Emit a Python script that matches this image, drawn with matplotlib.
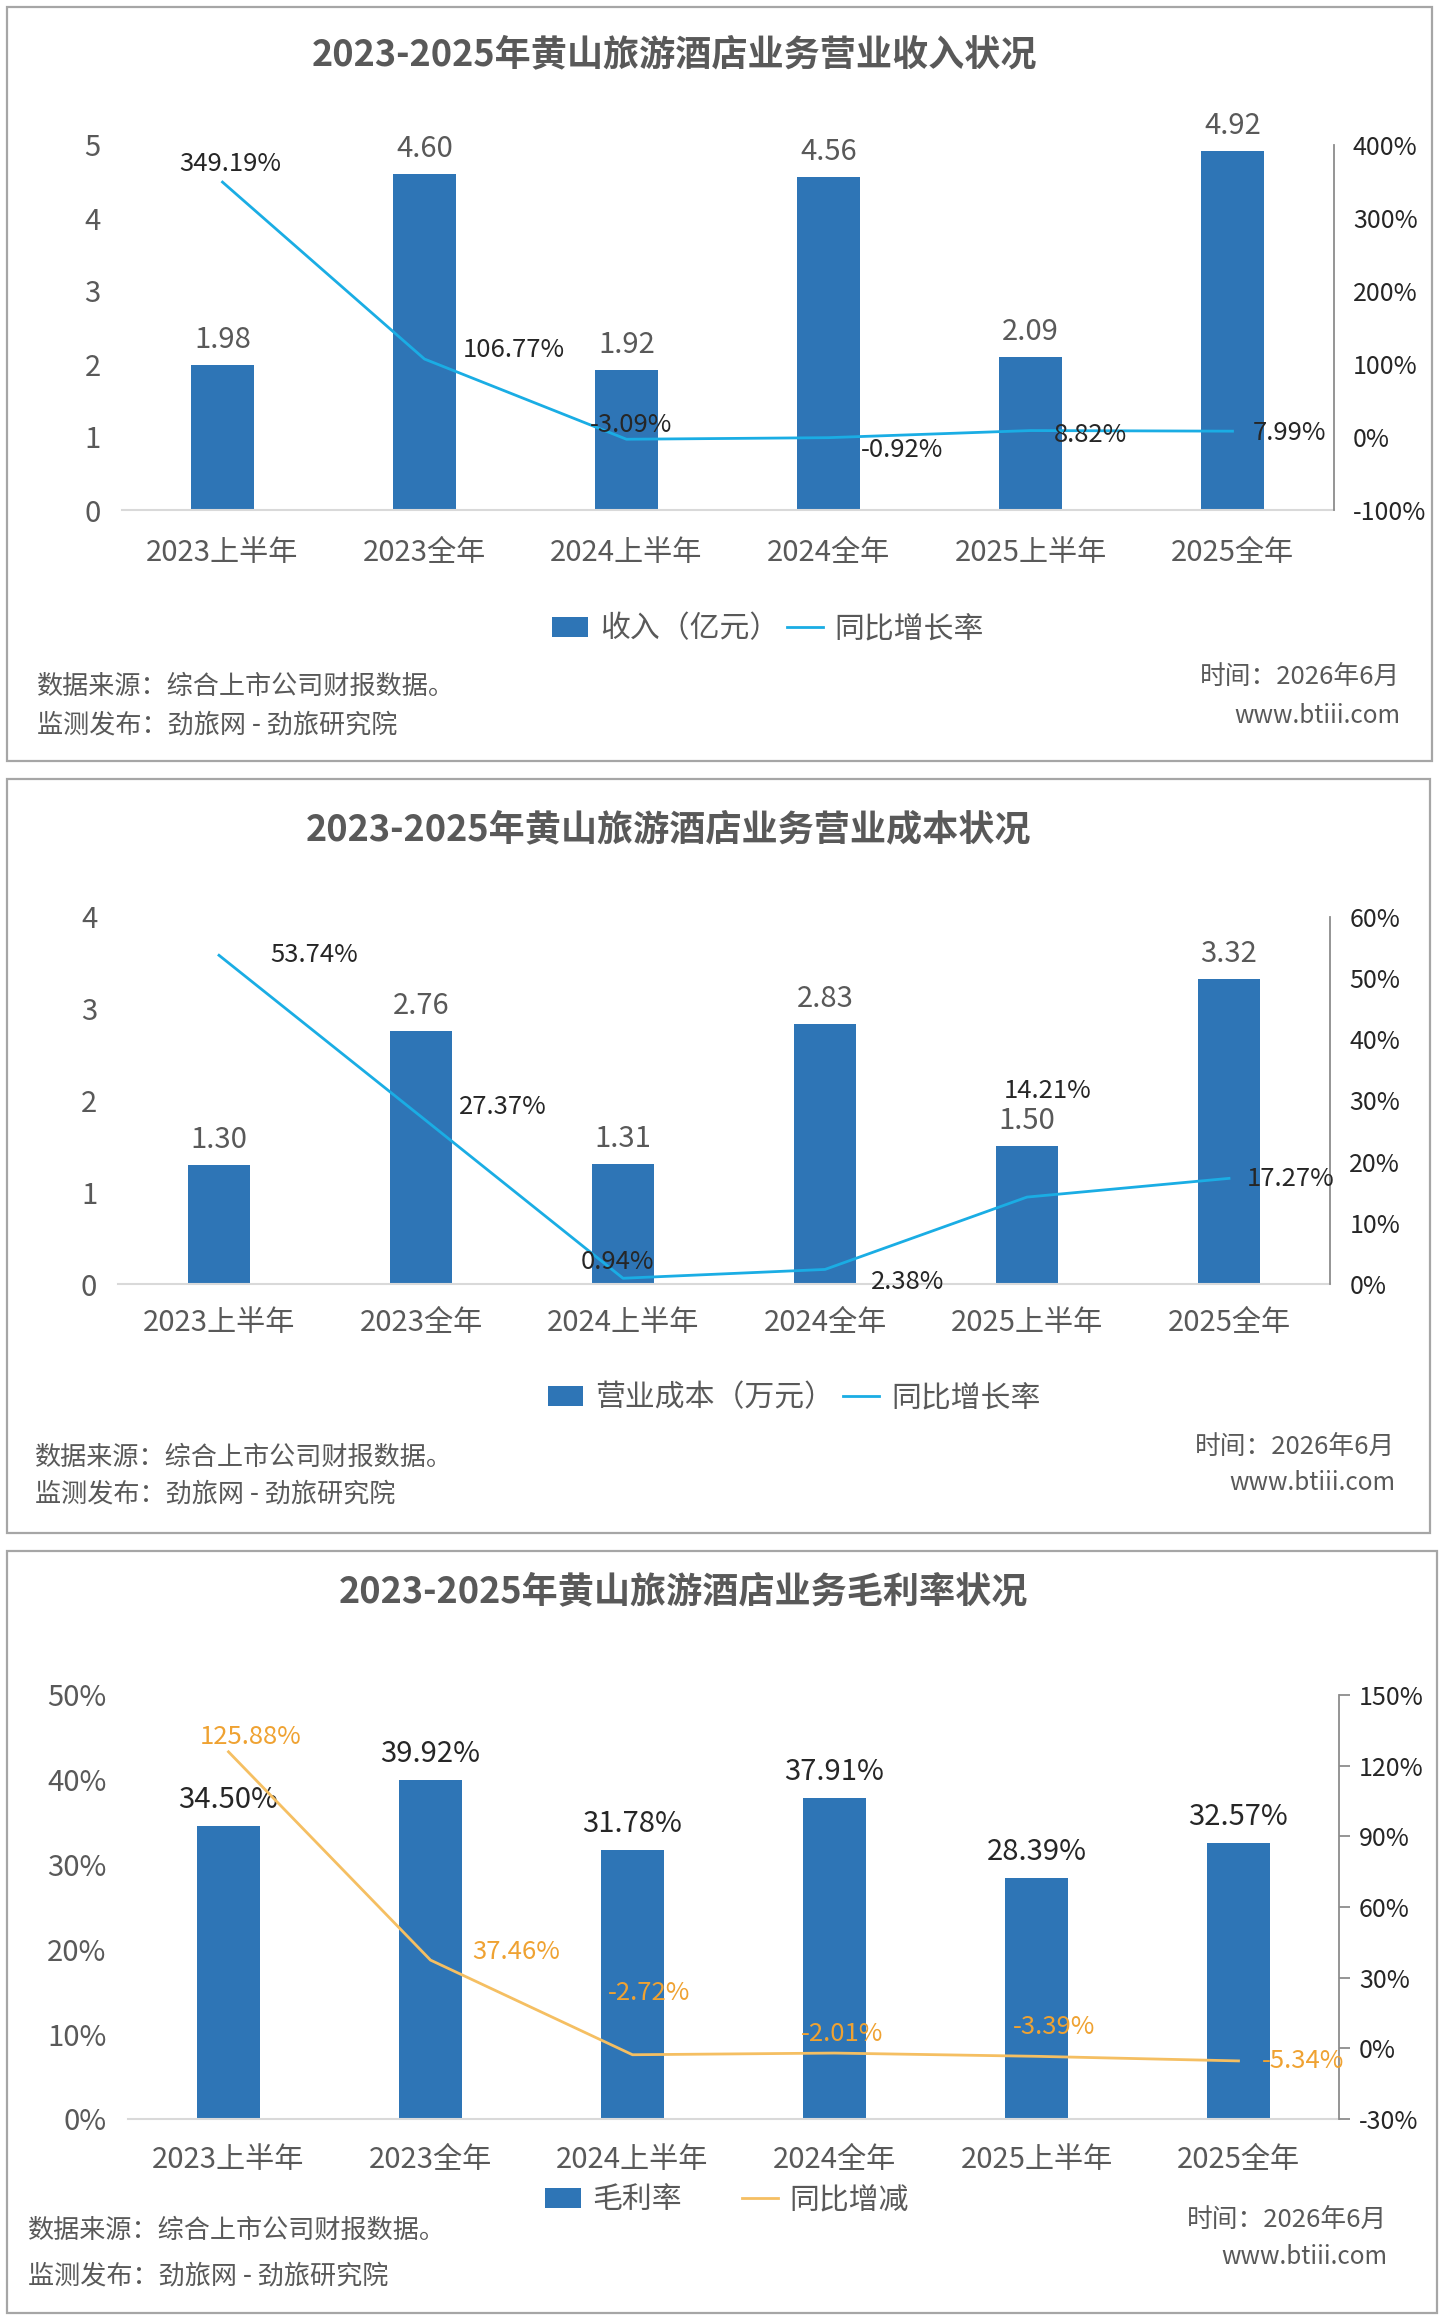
import matplotlib
matplotlib.use("Agg")
import matplotlib.pyplot as plt
from matplotlib.patches import Rectangle
import numpy as np

plt.rcParams['font.family'] = ['Noto Sans CJK SC', 'DejaVu Sans']

# ---------------- data ----------------
categories = ["2023上半年", "2023全年", "2024上半年", "2024全年", "2025上半年", "2025全年"]

revenue = [1.98, 4.60, 1.92, 4.56, 2.09, 4.92]              # 亿元
revenue_yoy = [349.19, 106.77, -3.09, -0.92, 8.82, 7.99]      # %

cost = [1.30, 2.76, 1.31, 2.83, 1.50, 3.32]
cost_yoy = [53.74, 27.37, 0.94, 2.38, 14.21, 17.27]

margin = [34.50, 39.92, 31.78, 37.91, 28.39, 32.57]          # %
margin_yoy = [125.88, 37.46, -2.72, -2.01, -3.39, -5.34]     # %

titles = ["2023-2025年黄山旅游酒店业务营业收入状况",
          "2023-2025年黄山旅游酒店业务营业成本状况",
          "2023-2025年黄山旅游酒店业务毛利率状况"]
legend_bar = ["收入（亿元）", "营业成本（万元）", "毛利率"]
legend_line = ["同比增长率", "同比增长率", "同比增减"]
source_text = "数据来源：综合上市公司财报数据。"
publisher_text = "监测发布：劲旅网 - 劲旅研究院"
time_text = "时间：2026年6月"
site_text = "www.btiii.com"

# ---------------- style ----------------
W, H = 1442, 2317
BAR = '#2E75B6'
CYAN = '#1AADE4'
ORANGE = '#F5BF62'
ORANGE_TXT = '#EFA232'
GRAY = '#595959'
DARK = '#262626'

fig = plt.figure(figsize=(W / 100, H / 100), dpi=100)
fig.patch.set_facecolor('white')


def fx(x):
    return x / W


def fy(y):
    return 1 - y / H


def add_ax(l, r, t, b):
    return fig.add_axes([l / W, 1 - b / H, (r - l) / W, (b - t) / H])


def border(l, t, r, b):
    fig.patches.append(Rectangle((fx(l), fy(b)), (r - l) / W, (b - t) / H,
                                 transform=fig.transFigure, fill=False,
                                 ec='#A6A6A6', lw=1.6))


panels = [
    dict(box=(7, 7, 1432, 761), ax=(121.5, 1333.5, 145, 510), title_xy=(675, 55),
         bars=revenue, line=revenue_yoy, ylim=(0, 5), yticks=[0, 1, 2, 3, 4, 5],
         yfmt="{:g}", y2lim=(-100, 400), y2ticks=[-100, 0, 100, 200, 300, 400],
         line_color=CYAN, line_txt=DARK, bar_txt=GRAY, bar_fmt="{:.2f}", bar_off=25,
         right_ticks=False, xpad=20, colspace=0.25,
         line_offsets=[('center', 8, 18), ('left', 38, 9), ('center', 5, 14),
                       ('left', 32, -12), ('left', 23, -4), ('left', 20, -2)],
         legend_xy=(768, 629), footer_left=(37, 686, 725), footer_right=(1400, 677, 716)),
    dict(box=(7, 779, 1430, 1533), ax=(118, 1330, 917, 1284), title_xy=(669, 830),
         bars=cost, line=cost_yoy, ylim=(0, 4), yticks=[0, 1, 2, 3, 4],
         yfmt="{:g}", y2lim=(0, 60), y2ticks=[0, 10, 20, 30, 40, 50, 60],
         line_color=CYAN, line_txt=DARK, bar_txt=GRAY, bar_fmt="{:.2f}", bar_off=25,
         right_ticks=False, xpad=17, colspace=0.3,
         line_offsets=[('left', 51, 0), ('left', 38, 10), ('center', -6, 16),
                       ('left', 46, -13), ('center', 21, 106), ('left', 18, -1)],
         legend_xy=(794, 1398), footer_left=(35, 1457, 1494), footer_right=(1395, 1447, 1483)),
    dict(box=(7, 1551, 1437, 2313), ax=(127.5, 1339.5, 1695, 2119), title_xy=(683, 1592),
         bars=margin, line=margin_yoy, ylim=(0, 50), yticks=[0, 10, 20, 30, 40, 50],
         yfmt="{:g}%", y2lim=(-30, 150), y2ticks=[-30, 0, 30, 60, 90, 120, 150],
         line_color=ORANGE, line_txt=ORANGE_TXT, bar_txt=DARK, bar_fmt="{:.2f}%", bar_off=26,
         right_ticks=True, xpad=19, colspace=2.0,
         line_offsets=[('center', 22, 15), ('left', 42, 8), ('center', 17, 62),
                       ('center', 8, 19), ('center', 18, 29), ('left', 23, 0)],
         legend_xy=(727, 2200), footer_left=(28, 2230, 2276), footer_right=(1387, 2220, 2257)),
]

x = np.arange(len(categories))

for i, p in enumerate(panels):
    border(*p['box'])
    l, r, t, b = p['ax']
    ax = add_ax(l, r, t, b)
    bars = ax.bar(x, p['bars'], width=0.31, color=BAR, zorder=2)
    ax.set_xlim(-0.5, 5.5)
    ax.set_ylim(*p['ylim'])
    ax.set_xticks(x)
    ax.set_xticklabels(categories)
    ax.set_yticks(p['yticks'])
    ax.set_yticklabels([p['yfmt'].format(v) for v in p['yticks']])
    ax.tick_params(axis='x', length=0, pad=p['xpad'], labelsize=21, labelcolor=GRAY)
    ax.tick_params(axis='y', length=0, pad=15, labelsize=21, labelcolor=GRAY)
    for s in ['top', 'left', 'right']:
        ax.spines[s].set_visible(False)
    ax.spines['bottom'].set_color('#D9D9D9')
    ax.spines['bottom'].set_linewidth(1.5)
    ax.patch.set_alpha(0)

    for xi, v in zip(x, p['bars']):
        ax.annotate(p['bar_fmt'].format(v), (xi, v), xytext=(0, p['bar_off']),
                    textcoords='offset pixels', ha='center', va='center',
                    fontsize=21, color=p['bar_txt'])

    ax2 = ax.twinx()
    ln, = ax2.plot(x, p['line'], color=p['line_color'], lw=2.0, zorder=3)
    ax2.set_ylim(*p['y2lim'])
    ax2.set_yticks(p['y2ticks'])
    ax2.set_yticklabels([f"{v}%" for v in p['y2ticks']])
    for s in ['top', 'left', 'bottom']:
        ax2.spines[s].set_visible(False)
    ax2.spines['right'].set_color('#8C8C8C')
    ax2.spines['right'].set_linewidth(1.3)
    if p['right_ticks']:
        ax2.tick_params(axis='y', direction='out', length=8, width=1.3, color='#8C8C8C',
                        pad=6, labelsize=18, labelcolor=DARK)
    else:
        ax2.tick_params(axis='y', length=0, pad=14, labelsize=18, labelcolor=DARK)

    for xi, v, (ha, dx, dy) in zip(x, p['line'], p['line_offsets']):
        ax2.annotate(f"{v:.2f}%", (xi, v), xytext=(dx, dy), textcoords='offset pixels',
                     ha=ha, va='center', fontsize=18.5, color=p['line_txt'])

    # title
    fig.text(fx(p['title_xy'][0]), fy(p['title_xy'][1]), titles[i], ha='center', va='center',
             fontsize=26, fontweight='bold', color=GRAY)

    # legend
    fig.legend([bars, ln], [legend_bar[i], legend_line[i]], loc='center',
               bbox_to_anchor=(fx(p['legend_xy'][0]), fy(p['legend_xy'][1])),
               ncol=2, frameon=False, fontsize=21.5, handlelength=1.2, handleheight=0.65,
               handletextpad=0.4, columnspacing=p['colspace'], labelcolor=GRAY,
               bbox_transform=fig.transFigure)

    # footer
    fl = p['footer_left']
    fig.text(fx(fl[0]), fy(fl[1]), source_text, ha='left', va='center', fontsize=18.8, color=GRAY)
    fig.text(fx(fl[0]), fy(fl[2]), publisher_text, ha='left', va='center', fontsize=18.8, color=GRAY)
    fr = p['footer_right']
    fig.text(fx(fr[0]), fy(fr[1]), time_text, ha='right', va='center', fontsize=18.5, color=GRAY)
    fig.text(fx(fr[0]), fy(fr[2]), site_text, ha='right', va='center', fontsize=17.5, color=GRAY)

fig.savefig("out.png", dpi=100, facecolor='white')
